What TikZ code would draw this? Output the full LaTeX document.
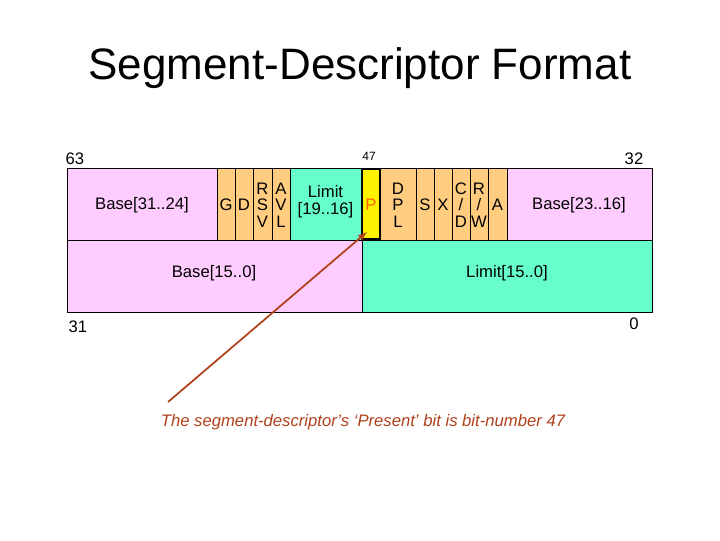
\documentclass[tikz,border=0pt]{standalone}
\usepackage{fontspec}
\setmainfont{Liberation Sans}
\begin{document}
\begin{tikzpicture}[x=0.75pt,y=-0.75pt,
  fld/.style={draw=black,line width=0.6pt},
  lbl/.style={font=\fontsize{12.5}{12.5}\selectfont,align=center,inner sep=0pt},
  num/.style={font=\fontsize{12.5}{13}\selectfont,inner sep=0pt}]
\definecolor{pinkc}{HTML}{FFCCFF}
\definecolor{orc}{HTML}{FFCC80}
\definecolor{grc}{HTML}{66FFCC}
\definecolor{arr}{HTML}{B0401A}
\useasboundingbox (0,0) rectangle (720,540);
\node[font=\fontsize{33}{36}\selectfont] (title) at (360,68) {Segment-Descriptor Format};
% top row
\path[fld,fill=pinkc] (67,168) rectangle (217,240);
\foreach \a/\b in {217/235,235/253,253/272,272/290,380/416,416/434,434/452,452/470,470/488,488/507}
  \path[fld,fill=orc] (\a,168) rectangle (\b,240);
\path[fld,fill=grc] (290,168) rectangle (361,240);
\path[fld,fill=pinkc] (507,168) rectangle (652,240);
\path[fill=yellow,draw=black,line width=1.6pt] (362,169) rectangle (380,239);
% bottom row
\path[fld,fill=pinkc] (67,240) rectangle (362,312);
\path[fld,fill=grc] (362,240) rectangle (652,312);
% labels
\node[lbl] (b3124) at (142,205) {Base[31..24]};
\node[lbl] (g) at (226,205) {G};
\node[lbl] (d) at (244,205) {D};
\node[lbl] (rsv) at (262.5,205) {R\\S\\V};
\node[lbl] (avl) at (281,205) {A\\V\\L};
\node[lbl] (lim) at (325.5,202) {Limit\\{}[19..16]};
\node[lbl,text=orange!80!red] (p) at (371,205) {P};
\node[lbl] (dpl) at (398,205) {D\\P\\L};
\node[lbl] (s) at (425,205) {S};
\node[lbl] (x) at (443,205) {X};
\node[lbl] (cd) at (461,205) {C\\/\\D};
\node[lbl] (rw) at (479,205) {R\\/\\W};
\node[lbl] (a) at (497.5,205) {A};
\node[lbl] (b2316) at (579,205) {Base[23..16]};
\node[lbl] (b150) at (214,273) {Base[15..0]};
\node[lbl] (l150) at (507,273) {Limit[15..0]};
\node[num] (n63) at (75,159) {63};
\node[num,font=\fontsize{9}{10}\selectfont] (n47) at (369,156) {47};
\node[num] (n32) at (634,159) {32};
\node[num] (n31) at (78,327) {31};
\node[num] (n0) at (634,324) {0};
\node[lbl,font=\fontsize{12.5}{13}\selectfont\itshape,text=arr] (cap) at (363,422) {The segment-descriptor’s ‘Present’ bit is bit-number 47};
\coordinate (tail) at (168,402);
\draw[arr,line width=1.3pt,-latex] (tail) -- (367,232);
\end{tikzpicture}
\end{document}
